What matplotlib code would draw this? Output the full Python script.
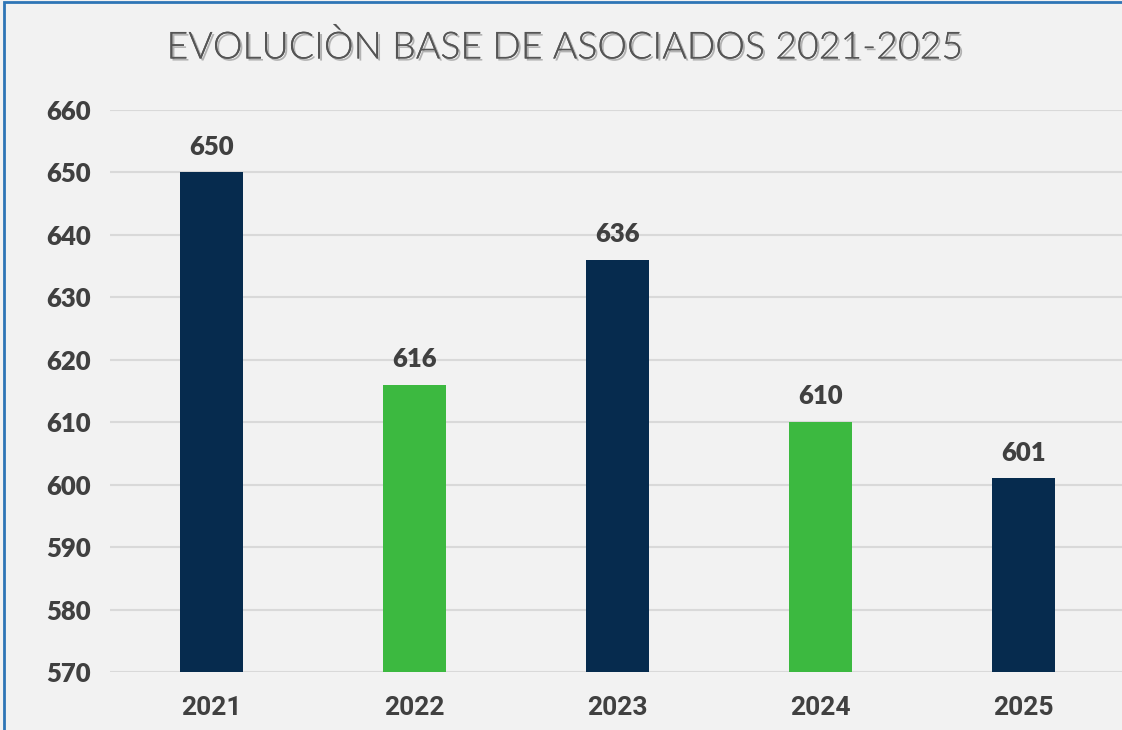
import matplotlib
matplotlib.use("Agg")
import matplotlib.pyplot as plt
import matplotlib.patheffects as pe
from matplotlib.patches import Rectangle

# data
years = ["2021", "2022", "2023", "2024", "2025"]
socios = [650, 616, 636, 610, 601]
bar_colors = ["#062B4E", "#3CB940", "#062B4E", "#3CB940", "#062B4E"]
yticks = [570, 580, 590, 600, 610, 620, 630, 640, 650, 660]

bg = "#F2F2F2"
txt = "#404040"

fig = plt.figure(figsize=(11.22, 7.30), dpi=100, facecolor=bg)
ax = fig.add_axes([110 / 1122, 1 - 672 / 730, 1015 / 1122, (672 - 110) / 730])
ax.set_facecolor(bg)

x = range(len(years))
ax.bar(x, [v - 570 for v in socios], bottom=570, width=0.315, color=bar_colors, zorder=3)

for i, v in enumerate(socios):
    ax.text(i, v + 2.2, str(v), ha="center", va="bottom", fontsize=18.5,
            fontweight="heavy", color=txt, family="Lato")

ax.set_ylim(570, 660)
ax.set_xlim(-0.5, len(years) - 0.5)
ax.set_yticks(yticks)
ax.set_yticklabels([str(t) for t in yticks], fontsize=18.5, fontweight="heavy",
                   color=txt, family="Lato")
ax.set_xticks(list(x))
ax.set_xticklabels(years, fontsize=19, fontweight="bold", color=txt, family="Roboto")
ax.tick_params(axis="both", length=0)
ax.tick_params(axis="y", pad=46)
ax.tick_params(axis="x", pad=17)
for lbl in ax.get_yticklabels():
    lbl.set_horizontalalignment("left")
ax.grid(axis="y", color="#D9D9D9", lw=1.5, zorder=0)
for s in ax.spines.values():
    s.set_visible(False)

fig.text(565 / 1122, 1 - 48 / 730, "EVOLUCIÒN BASE DE ASOCIADOS 2021-2025",
         ha="center", va="center", fontsize=27, fontweight=300, color="#555555",
         family="Lato",
         path_effects=[pe.withSimplePatchShadow(offset=(1.5, -1.5), shadow_rgbFace="#888888", alpha=0.6),
                       pe.Normal()])

# outer border (cropped chart frame)
fig.patches.append(Rectangle((4 / 1122, -0.1), 1.2, 1 - 2 / 730 + 0.1, transform=fig.transFigure,
                             fill=False, edgecolor="#2E75B6", lw=2))

fig.savefig("out.png", dpi=100, facecolor=bg)
